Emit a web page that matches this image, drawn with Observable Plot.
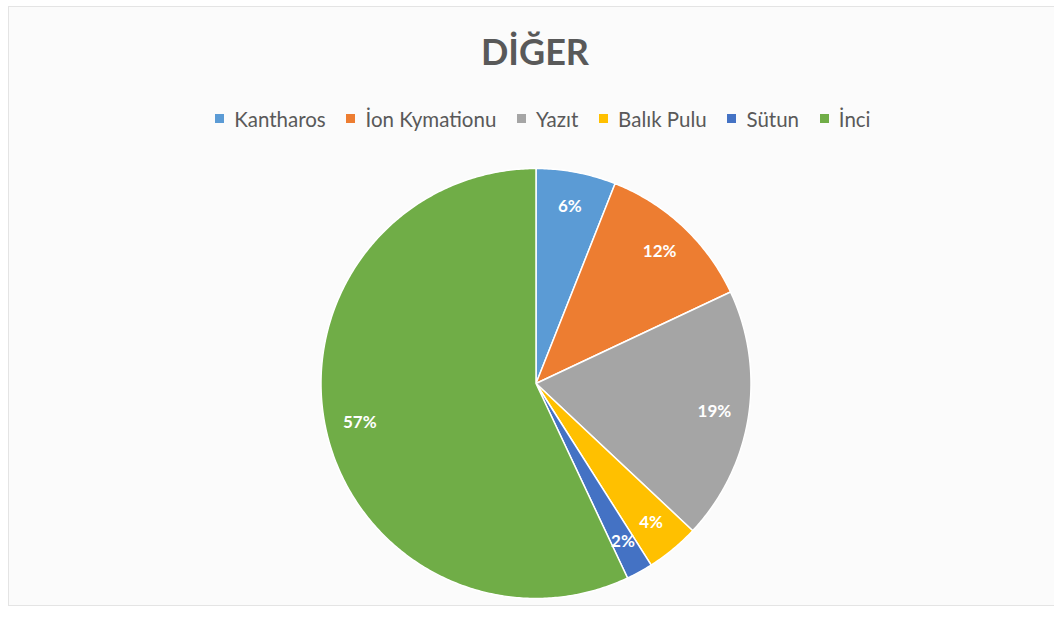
<!DOCTYPE html>
<html>
<head>
<meta charset="utf-8">
<script src="https://cdn.jsdelivr.net/npm/d3@7"></script>
<script src="https://cdn.jsdelivr.net/npm/@observablehq/plot@0.6"></script>
<style>
  html, body { margin: 0; padding: 0; background: #ffffff; }
  #wrap { position: relative; width: 1054px; height: 618px; overflow: hidden; background: #ffffff; font-family: Lato, "Open Sans", sans-serif; }
  #frame { position: absolute; left: 8px; top: 6px; width: 1060px; height: 600px; border: 1px solid #e4e4e4; background: #fbfbfb; box-sizing: border-box; }
  #title { position: absolute; left: 0; width: 1070px; top: 33px; text-align: center; font: bold 36px/36px Lato, "Open Sans", sans-serif; color: #595959; }
  #legend { position: absolute; left: 10px; width: 1086px; top: 102px; display: flex; justify-content: center; }
  #chart { position: absolute; left: 0; top: 163px; }
</style>
</head>
<body>
<div id="wrap">
  <div id="frame"></div>
  <div id="title">DİĞER</div>
  <div id="legend"></div>
  <div id="chart"></div>
</div>
<script>
const categories = ["Kantharos", "İon Kymationu", "Yazıt", "Balık Pulu", "Sütun", "İnci"];
const values = [6, 12, 19, 4, 2, 57];
const colors = ["#5B9BD5", "#ED7D31", "#A5A5A5", "#FFC000", "#4472C4", "#70AD47"];
const labels = values.map(v => v + "%");

const arcs = d3.pie().sort(null)(values);
const ring = (a0, a1, r) => {
  const n = Math.max(2, Math.ceil((a1 - a0) / 0.01));
  const pts = [];
  for (let i = 0; i <= n; ++i) {
    const a = a0 + (a1 - a0) * i / n;
    pts.push([r * Math.sin(a), -r * Math.cos(a)]);
  }
  return pts;
};
const slices = arcs.map((a, i) => ({
  type: "Feature",
  properties: {name: categories[i]},
  geometry: {type: "Polygon", coordinates: [[[0, 0], ...ring(a.startAngle, a.endAngle, 1), [0, 0]]]}
}));
const outline = {type: "Polygon", coordinates: [ring(0, 2 * Math.PI, 1)]};
const labelData = arcs.map((a, i) => {
  const m = (a.startAngle + a.endAngle) / 2;
  return {x: 0.84 * Math.sin(m), y: -0.84 * Math.cos(m), text: labels[i]};
});

const color = {domain: categories, range: colors, type: "categorical"};

const chart = Plot.plot({
  width: 1054,
  height: 440,
  marginLeft: 17,
  marginRight: 0,
  marginTop: 5,
  marginBottom: 5,
  projection: {type: "identity", domain: outline},
  color,
  style: {background: "transparent", overflow: "visible"},
  marks: [
    Plot.geo(slices, {fill: d => d.properties.name, stroke: "white", strokeWidth: 1.5}),
    Plot.text(labelData, {x: "x", y: "y", text: "text", fill: "white", fontSize: 17, fontWeight: "bold", fontFamily: "Lato, 'Open Sans', sans-serif"})
  ]
});
document.getElementById("chart").appendChild(chart);

const legend = Plot.legend({
  color,
  swatchSize: 9,
  style: {fontSize: "20.5px", fontFamily: "Lato, 'Open Sans', sans-serif", color: "#595959", background: "transparent"}
});
document.getElementById("legend").appendChild(legend);
</script>
</body>
</html>
